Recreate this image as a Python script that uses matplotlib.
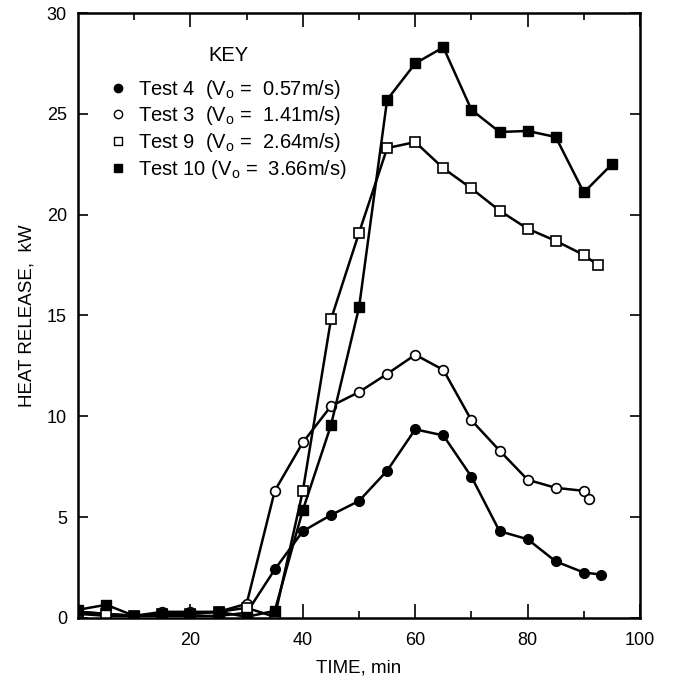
import matplotlib
matplotlib.use('Agg')
import matplotlib.pyplot as plt
from matplotlib.lines import Line2D

plt.rcParams['font.family'] = ['Liberation Sans', 'DejaVu Sans']
plt.rcParams['mathtext.default'] = 'regular'

# Test 4 (V0 = 0.57 m/s)
t4_time = [0, 5, 10, 15, 20, 25, 30, 35, 40, 45, 50, 55, 60, 65, 70, 75, 80, 85, 90, 93]
t4_heat = [0.2, 0.1, 0.1, 0.1, 0.1, 0.1, 0.25, 2.4, 4.3, 5.1, 5.8, 7.3, 9.35, 9.05, 7.0, 4.3, 3.9, 2.8, 2.25, 2.15]

# Test 3 (V0 = 1.41 m/s)
t3_time = [0, 10, 15, 20, 25, 30, 35, 40, 45, 50, 55, 60, 65, 70, 75, 80, 85, 90, 91]
t3_heat = [0.3, 0.1, 0.3, 0.3, 0.3, 0.7, 6.3, 8.7, 10.5, 11.2, 12.1, 13.05, 12.3, 9.8, 8.3, 6.85, 6.45, 6.3, 5.9]

# Test 9 (V0 = 2.64 m/s)
t9_time = [0, 5, 10, 15, 20, 25, 30, 35, 40, 45, 50, 55, 60, 65, 70, 75, 80, 85, 90, 92.5]
t9_heat = [0.3, 0.2, 0.1, 0.2, 0.2, 0.3, 0.5, 0.05, 6.3, 14.8, 19.1, 23.3, 23.6, 22.3, 21.3, 20.2, 19.3, 18.7, 18.0, 17.5]

# Test 10 (V0 = 3.66 m/s)
t10_time = [0, 5, 10, 15, 20, 25, 30, 35, 40, 45, 50, 55, 60, 65, 70, 75, 80, 85, 90, 95]
t10_heat = [0.4, 0.65, 0.1, 0.2, 0.2, 0.3, 0.05, 0.35, 5.35, 9.55, 15.4, 25.7, 27.5, 28.3, 25.2, 24.1, 24.15, 23.85, 21.1, 22.5]

labels = ['Test 4  (V$_o$ =  0.57m/s)', 'Test 3  (V$_o$ =  1.41m/s)',
          'Test 9  (V$_o$ =  2.64m/s)', 'Test 10 (V$_o$ =  3.66m/s)']

fig = plt.figure(figsize=(6.73, 6.85), dpi=100)
ax = fig.add_axes([0.116, 0.098, 0.835, 0.883])

lw = 1.8
ms = 7
ax.plot(t4_time, t4_heat, 'k-', lw=lw, marker='o', ms=ms, mfc='k', mec='k')
ax.plot(t3_time, t3_heat, 'k-', lw=lw, marker='o', ms=ms, mfc='white', mec='k', mew=1.2)
ax.plot(t9_time, t9_heat, 'k-', lw=lw, marker='s', ms=ms, mfc='white', mec='k', mew=1.2)
ax.plot(t10_time, t10_heat, 'k-', lw=lw, marker='s', ms=ms, mfc='k', mec='k')

ax.set_xlim(0, 100)
ax.set_ylim(0, 30)
ax.set_xticks([20, 40, 60, 80, 100])
ax.set_xticks([10, 30, 50, 70, 90], minor=True)
ax.set_yticks([0, 5, 10, 15, 20, 25, 30])
ax.tick_params(axis='x', which='major', direction='in', length=10, width=1.2,
               top=True, labelsize=13, pad=10)
ax.tick_params(axis='x', which='minor', direction='in', length=5, width=1.2, top=True)
ax.tick_params(axis='y', which='major', direction='in', length=7, width=1.2,
               right=True, labelsize=13, pad=8)
for s in ax.spines.values():
    s.set_linewidth(1.8)

ax.set_xlabel('TIME, min', fontsize=13.5, labelpad=8)
ax.set_ylabel('HEAT RELEASE,  kW', fontsize=13.5, labelpad=8)

handles = [
    Line2D([], [], ls='none', marker='o', ms=6, mfc='k', mec='k'),
    Line2D([], [], ls='none', marker='o', ms=6, mfc='white', mec='k'),
    Line2D([], [], ls='none', marker='s', ms=6, mfc='white', mec='k'),
    Line2D([], [], ls='none', marker='s', ms=6, mfc='k', mec='k'),
]
leg = ax.legend(handles, labels, title='KEY', loc='upper left',
                bbox_to_anchor=(0.025, 0.975), frameon=False, fontsize=14.5,
                title_fontsize=14.5, handlelength=0.8, handletextpad=0.6,
                labelspacing=0.18)
leg._legend_box.sep = 9

fig.savefig('out.png', dpi=100)
